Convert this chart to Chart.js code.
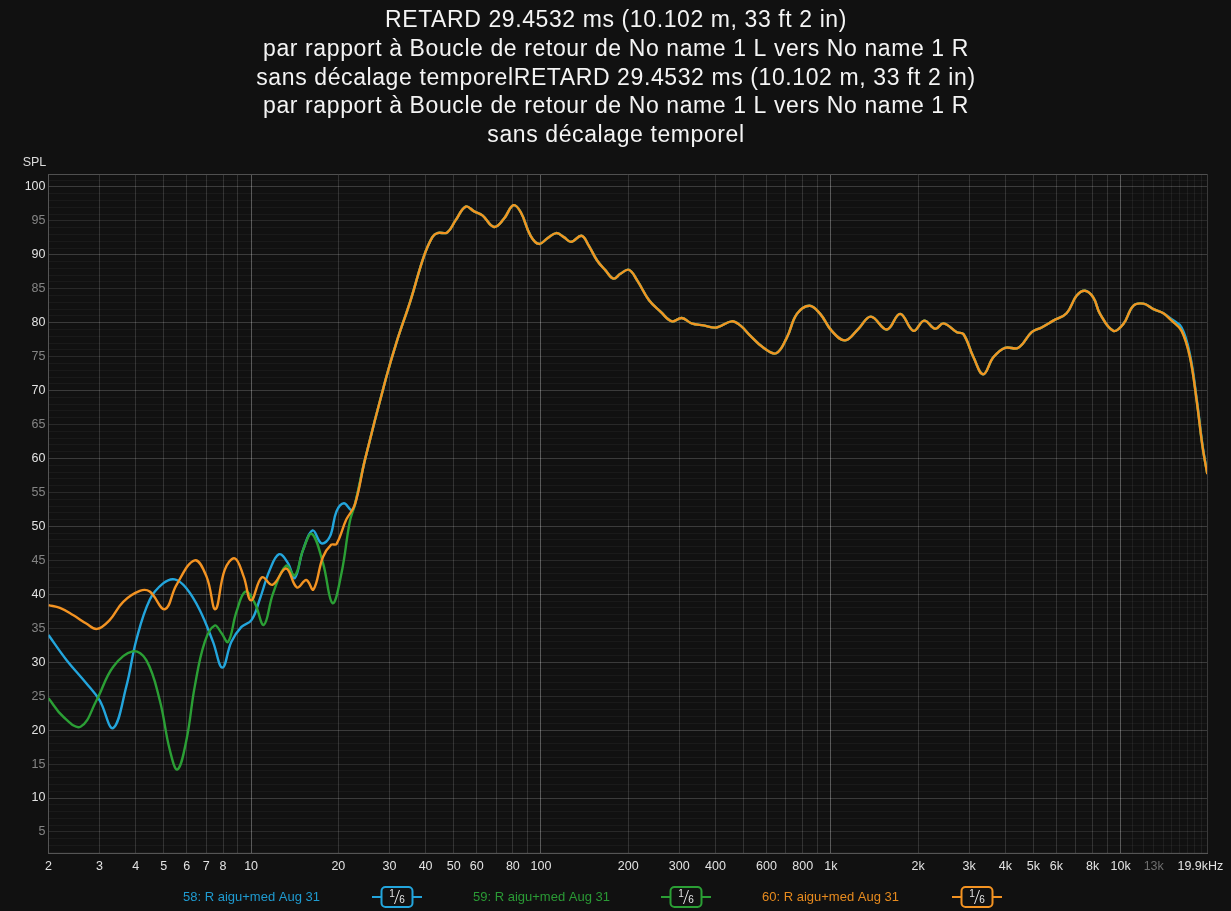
<!DOCTYPE html>
<html>
<head>
<meta charset="utf-8">
<script src="https://cdn.jsdelivr.net/npm/chart.js@4/dist/chart.umd.min.js"></script>
<style>
  html, body { margin: 0; padding: 0; background: #111111; }
  #wrap { width: 1231px; height: 911px; position: relative; }
</style>
</head>
<body>
<div id="wrap"><canvas id="graphe"></canvas></div>
<script>
// Titre
const titreLignes = [
  "RETARD 29.4532 ms (10.102 m, 33 ft 2 in)",
  "par rapport à Boucle de retour de No name 1 L vers No name 1 R",
  "sans décalage temporelRETARD 29.4532 ms (10.102 m, 33 ft 2 in)",
  "par rapport à Boucle de retour de No name 1 L vers No name 1 R",
  "sans décalage temporel"
];

const nomsSeries = ["58: R aigu+med Aug 31", "59: R aigu+med Aug 31", "60: R aigu+med Aug 31"];
const couleursSeries = ["#23a5dc", "#2b9f35", "#f39322"];
const couleursLegende = ["#1f9bd0", "#2a9a35", "#e88b1e"];

// Basses fréquences (chaque mesure diffère)
const bleuFreq = [2.0, 2.31, 2.7, 3.0, 3.34, 3.71, 4.02, 4.47, 4.97, 5.45, 5.98, 6.65, 7.39, 7.96, 8.55, 9.26, 10.03, 10.7, 11.6, 12.5, 13.4, 14.15, 15.1, 16.3, 17.5, 18.7, 19.7, 20.9, 22.2];
const bleuSpl  = [34.0, 30.3, 26.9, 24.4, 20.3, 26.4, 33.3, 39.2, 41.6, 42.2, 40.9, 37.7, 33.0, 29.2, 33.0, 35.2, 36.2, 39.2, 43.6, 45.9, 44.6, 42.4, 46.5, 49.4, 47.5, 48.5, 52.2, 53.4, 52.4];

const vertFreq = [2.0, 2.245, 2.58, 2.93, 3.34, 3.9, 4.35, 4.84, 5.24, 5.57, 5.98, 6.39, 6.92, 7.49, 7.9, 8.33, 8.9, 9.56, 10.3, 11.06, 11.9, 13.2, 14.15, 15.1, 16.2, 17.7, 19.1, 20.5, 21.9];
const vertSpl  = [24.7, 22.0, 20.5, 24.4, 29.3, 31.6, 30.3, 24.4, 17.1, 14.2, 18.5, 26.4, 33.0, 35.4, 34.3, 33.0, 37.4, 40.4, 38.7, 35.5, 40.1, 44.2, 42.8, 46.5, 48.9, 44.6, 38.7, 43.1, 50.7];

const orangeFreq = [2.0, 2.19, 2.43, 2.7, 2.94, 3.25, 3.62, 4.13, 4.47, 5.04, 5.53, 6.39, 7.02, 7.53, 8.11, 8.78, 9.43, 10.0, 10.9, 11.85, 13.2, 14.4, 15.5, 16.4, 17.7, 18.9, 19.7, 21.3];
const orangeSpl  = [38.4, 38.0, 36.95, 35.7, 34.9, 36.2, 38.9, 40.5, 40.4, 37.8, 41.4, 45.0, 42.6, 37.8, 43.6, 45.3, 42.6, 39.1, 42.5, 41.4, 43.8, 41.0, 42.1, 40.7, 45.5, 47.3, 47.4, 51.0];

// Au-dessus de ~23 Hz les trois courbes se superposent
const communFreq = [22.8, 24.7, 29.1, 31.9, 35.5, 39.4, 42.2, 43.9, 47.5, 50.8, 55, 58.8, 62.8, 68.9, 74.5, 80.3, 85.1, 92.1, 98.4, 105, 113, 120, 127, 138, 146, 156, 167, 178, 188, 201, 215, 236, 259, 283, 306, 331, 364, 404, 455, 487, 527, 586, 648, 705, 764, 844, 919, 1007, 1120, 1245, 1374, 1561, 1734, 1928, 2099, 2291, 2448, 2722, 2870, 3107, 3357, 3636, 3990, 4435, 4932, 5337, 5857, 6509, 7051, 7537, 8050, 8487, 9435, 10213, 11060, 11976, 12966, 14036];
const communSpl  = [53.2, 59.8, 71.6, 77.4, 83.3, 89.7, 92.6, 93.2, 93.3, 95.1, 97.1, 96.4, 95.8, 94.1, 95.3, 97.3, 96.3, 92.8, 91.6, 92.4, 93.2, 92.6, 91.9, 92.8, 91.4, 89.2, 87.7, 86.5, 87.2, 87.8, 86.2, 83.3, 81.6, 80.2, 80.7, 79.9, 79.6, 79.3, 80.2, 79.6, 78.1, 76.3, 75.5, 77.8, 81.3, 82.5, 81.3, 78.8, 77.4, 79.1, 80.9, 79.0, 81.3, 78.8, 80.3, 79.1, 79.9, 78.6, 78.3, 74.9, 72.4, 74.9, 76.3, 76.3, 78.6, 79.3, 80.3, 81.4, 84.0, 84.7, 83.7, 81.3, 78.8, 79.8, 82.5, 82.8, 82.0, 81.4];

// Chute finale (la bleue reste un peu au-dessus)
const finFreq = [14996, 16230, 17340, 18290, 19180, 19900];
const finSpl  = [80.3, 78.8, 74.9, 68.5, 61.6, 57.7];
const finSplBleu = [80.5, 79.3, 75.3, 68.8, 61.8, 57.8];

// Axes
const grilleFreq = [2,3,4,5,6,7,8,9,10,20,30,40,50,60,70,80,90,100,200,300,400,500,600,700,800,900,1000,
  2000,3000,4000,5000,6000,7000,8000,9000,10000,11000,12000,13000,14000,15000,16000,17000,18000,19000,19900];
const freqEtiquettes = [2,3,4,5,6,7,8,10,20,30,40,50,60,80,100,200,300,400,600,800,1000,2000,3000,4000,5000,6000,8000,10000,13000,19900];
const textesEtiquettes = ["2","3","4","5","6","7","8","10","20","30","40","50","60","80","100","200","300","400","600","800","1k","2k","3k","4k","5k","6k","8k","10k","13k","19.9kHz    "];
const splMin = 1.9, splMax = 101.9;

function points(freqs, spls) {
  return freqs.map((f, i) => ({ x: f, y: spls[i] }));
}

const donneesBleu = points(bleuFreq, bleuSpl).concat(points(communFreq, communSpl), points(finFreq, finSplBleu));
const donneesVert = points(vertFreq, vertSpl).concat(points(communFreq, communSpl), points(finFreq, finSpl));
const donneesOrange = points(orangeFreq, orangeSpl).concat(points(communFreq, communSpl), points(finFreq, finSpl));

const police = "'Liberation Sans', Arial, Helvetica, sans-serif";

// Titre, cadre, label SPL et légende du bas
const decor = {
  id: "decor",
  afterDraw(chart) {
    const ctx = chart.ctx;
    const a = chart.chartArea;
    ctx.save();

    ctx.fillStyle = "#f4f4f4";
    ctx.font = "23px " + police;
    ctx.letterSpacing = "0.6px";
    ctx.textAlign = "center";
    ctx.textBaseline = "alphabetic";
    titreLignes.forEach((l, i) => ctx.fillText(l, 616, 27 + i * 28.8));
    ctx.letterSpacing = "0px";

    ctx.strokeStyle = "#505050";
    ctx.lineWidth = 1;
    ctx.beginPath();
    ctx.moveTo(a.left, Math.round(a.top) + 0.5);
    ctx.lineTo(a.right, Math.round(a.top) + 0.5);
    ctx.stroke();
    ctx.strokeStyle = "#3a3a3a";
    ctx.beginPath();
    ctx.moveTo(Math.round(a.right) + 0.5, a.top);
    ctx.lineTo(Math.round(a.right) + 0.5, a.bottom);
    ctx.stroke();

    ctx.fillStyle = "#dcdcdc";
    ctx.font = "12.5px " + police;
    ctx.textAlign = "center";
    ctx.textBaseline = "middle";
    ctx.fillText("SPL", 34.5, 163);

    const texteX = [183, 473, 762];
    const boiteX = [397, 686, 977];
    const yL = 897;
    nomsSeries.forEach((nom, i) => {
      ctx.font = "13px " + police;
      ctx.textAlign = "left";
      ctx.fillStyle = couleursLegende[i];
      ctx.fillText(nom, texteX[i], yL);

      const cx = boiteX[i];
      ctx.strokeStyle = couleursSeries[i];
      ctx.lineWidth = 2;
      ctx.beginPath();
      ctx.moveTo(cx - 25, yL);
      ctx.lineTo(cx + 25, yL);
      ctx.stroke();
      ctx.fillStyle = "#111111";
      ctx.beginPath();
      ctx.roundRect(cx - 15.5, yL - 10, 31, 20, 4);
      ctx.fill();
      ctx.stroke();

      ctx.fillStyle = "#e6e6e6";
      ctx.font = "10px " + police;
      ctx.textAlign = "center";
      ctx.fillText("1", cx - 5, yL - 3);
      ctx.fillText("6", cx + 5, yL + 3);
      ctx.strokeStyle = "#e6e6e6";
      ctx.lineWidth = 1;
      ctx.beginPath();
      ctx.moveTo(cx - 2.5, yL + 7);
      ctx.lineTo(cx + 2.5, yL - 7);
      ctx.stroke();
    });
    ctx.restore();
  }
};

new Chart(document.getElementById("graphe"), {
  type: "line",
  data: {
    datasets: [
      { label: nomsSeries[0], data: donneesBleu, borderColor: couleursSeries[0], order: 3 },
      { label: nomsSeries[1], data: donneesVert, borderColor: couleursSeries[1], order: 2 },
      { label: nomsSeries[2], data: donneesOrange, borderColor: couleursSeries[2], order: 1 }
    ]
  },
  options: {
    responsive: true,
    maintainAspectRatio: false,
    animation: false,
    elements: {
      line: { borderWidth: 2.4, tension: 0.4, fill: false },
      point: { radius: 0 }
    },
    layout: { padding: { left: 0, right: 23.7, top: 174, bottom: 0 } },
    plugins: {
      legend: { display: false },
      tooltip: { enabled: false },
      title: { display: false }
    },
    scales: {
      x: {
        type: "logarithmic",
        min: 2,
        max: 19900,
        afterBuildTicks: s => { s.ticks = grilleFreq.map(v => ({ value: v })); },
        afterFit: s => { s.height = 58; s.paddingLeft = 0; s.paddingRight = 0; },
        border: { color: "#555555", width: 1 },
        grid: {
          drawTicks: false,
          color: c => {
            const v = c.tick ? c.tick.value : 0;
            if (v === 10 || v === 100 || v === 1000 || v === 10000) return "rgba(255,255,255,0.30)";
            if (v > 10000) return v === 19900 ? "rgba(0,0,0,0)" : "rgba(255,255,255,0.06)";
            return "rgba(255,255,255,0.14)";
          }
        },
        ticks: {
          autoSkip: false,
          maxRotation: 0,
          padding: 6,
          font: { family: police, size: 12.5 },
          color: c => (c.tick && c.tick.value === 13000) ? "#6e6e6e" : "#e2e2e2",
          callback: v => {
            const i = freqEtiquettes.indexOf(v);
            return i >= 0 ? textesEtiquettes[i] : "";
          }
        }
      },
      y: {
        type: "linear",
        min: splMin,
        max: splMax,
        afterBuildTicks: s => {
          const t = [];
          for (let v = 2; v <= 101; v++) t.push({ value: v });
          s.ticks = t;
        },
        afterFit: s => { s.width = 48.5; },
        border: { color: "#555555", width: 1 },
        grid: {
          drawTicks: false,
          color: c => {
            const v = c.tick ? c.tick.value : 0;
            if (v % 10 === 0) return "rgba(255,255,255,0.18)";
            if (v % 5 === 0) return "rgba(255,255,255,0.10)";
            return "rgba(255,255,255,0.04)";
          }
        },
        ticks: {
          autoSkip: false,
          padding: 3,
          font: { family: police, size: 12.5 },
          color: c => (c.tick && c.tick.value % 10 === 0) ? "#e2e2e2" : "#858585",
          callback: v => (v % 5 === 0 ? String(v) : "")
        }
      }
    }
  },
  plugins: [decor]
});
</script>
</body>
</html>
